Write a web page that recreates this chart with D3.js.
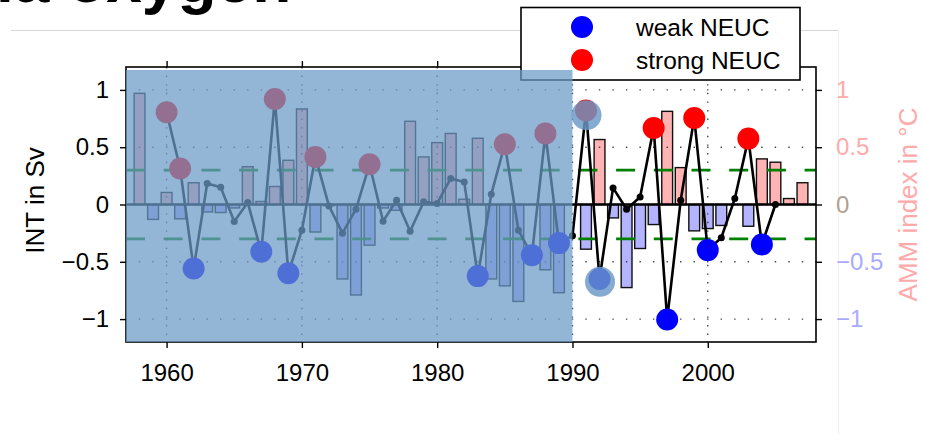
<!DOCTYPE html>
<html>
<head>
<meta charset="utf-8">
<script src="https://cdn.jsdelivr.net/npm/d3@7"></script>
<style>
  body { margin: 0; background: #fff; }
  svg { display: block; font-family: "Liberation Sans", Arial, sans-serif; }
</style>
</head>
<body>
<div id="chart"></div>
<script>
// AMM index (bars, right axis), 1958-2007
const ammYears = d3.range(1958, 2008);
const ammValues = [
  0.97, -0.13, 0.105, -0.125, 0.19, -0.065, -0.07, -0.03, 0.33, 0.026,
  0.157, 0.386, 0.834, -0.24, -0.01, -0.65, -0.79, -0.355, -0.03, -0.05,
  0.726, 0.415, 0.54, 0.62, 0.046, 0.578, -0.65, -0.71, -0.846, 0.0,
  -0.57, -0.77, 0.0, -0.39, 0.567, -0.117, -0.725, -0.384, -0.175, 0.813,
  0.322, -0.23, -0.21, -0.183, 0.0, -0.19, 0.398, 0.369, 0.052, 0.19
];

// INT in Sv (line, left axis), 1960-2005
const intYears = d3.range(1960, 2006);
const intValues = [
  0.805, 0.314, -0.558, 0.183, 0.151, -0.148, 0.017, -0.413, 0.921, -0.60,
  -0.224, 0.415, -0.012, -0.25, -0.041, 0.351, -0.146, 0.037, -0.233, 0.023,
  0.009, 0.227, 0.197, -0.625, 0.09, 0.526, -0.224, -0.442, 0.619, -0.337,
  -0.273, 0.82, -0.65, 0.145, -0.041, 0.066, 0.668, -1.003, 0.037, 0.755,
  -0.398, -0.29, 0.052, 0.575, -0.349, 0.0
];

const threshold = 0.3;
const highlightYears = [1991, 1992];
const highlightValues = [0.78, -0.675];

const xTicks = [1960, 1970, 1980, 1990, 2000];
const yTicks = [-1, -0.5, 0, 0.5, 1];
const shadeEnd = 1990;

const width = 925, height = 434;
const margin = { top: 67, right: 109, bottom: 92, left: 126 };
const tickFont = 24;

const svg = d3.select("#chart").append("svg")
    .attr("width", width)
    .attr("height", height);

svg.append("rect").attr("width", width).attr("height", height).attr("fill", "#fff");

// page bits around the figure (title is cut at the top)
svg.append("text")
    .attr("x", -4).attr("y", 2)
    .attr("font-size", 64).attr("font-weight", "bold")
    .text("ia oxygen");
svg.append("line").attr("x1", 11).attr("x2", 838).attr("y1", 30.5).attr("y2", 30.5)
    .attr("stroke", "#d6d6d6");
svg.append("line").attr("x1", 838.5).attr("x2", 838.5).attr("y1", 30).attr("y2", height)
    .attr("stroke", "#f0f0f0");

const x = d3.scaleLinear().domain([1957, 2008]).range([margin.left, width - margin.right]);
const y = d3.scaleLinear().domain([-1.2, 1.2]).range([height - margin.bottom, margin.top]);

const g = svg.append("g");

// bars
const bw = x(1958.4) - x(1958);
g.selectAll(".bar")
  .data(ammYears.map((yr, i) => ({ yr, v: ammValues[i] })))
  .enter().append("rect")
    .attr("x", d => x(d.yr) - bw)
    .attr("width", bw * 2)
    .attr("y", d => y(Math.max(0, d.v)))
    .attr("height", d => Math.abs(y(d.v) - y(0)))
    .attr("fill", d => d.v >= 0 ? "#ffb3b3" : "#b3b3ff")
    .attr("stroke", "#111")
    .attr("stroke-width", 1.4);

// dotted grid
g.selectAll(".hgrid").data([-1, -0.5, 0.5, 1]).enter().append("line")
    .attr("x1", x(1957)).attr("x2", x(2008))
    .attr("y1", d => y(d)).attr("y2", d => y(d))
    .attr("stroke", "#444").attr("stroke-width", 1.4)
    .attr("stroke-dasharray", "1.4,12.13")
    .attr("stroke-dashoffset", -(x(1958) - x(1957) - 0.7));
g.selectAll(".vgrid").data(xTicks).enter().append("line")
    .attr("x1", d => x(d)).attr("x2", d => x(d))
    .attr("y1", y(1.2)).attr("y2", y(-1.2))
    .attr("stroke", "#444").attr("stroke-width", 1.4)
    .attr("stroke-dasharray", "1.4,7.2");

// zero line
g.append("line")
    .attr("x1", x(1957)).attr("x2", x(2008))
    .attr("y1", y(0)).attr("y2", y(0))
    .attr("stroke", "#000").attr("stroke-width", 2.6);

// threshold lines
g.selectAll(".thr").data([threshold, -threshold]).enter().append("line")
    .attr("x1", x(1957)).attr("x2", x(2008))
    .attr("y1", d => y(d)).attr("y2", d => y(d))
    .attr("stroke", "#008000").attr("stroke-width", 2.6)
    .attr("stroke-dasharray", "19,18.7");

// INT line
const pts = intYears.map((yr, i) => ({ yr, v: intValues[i] }));
g.append("path")
    .datum(pts)
    .attr("fill", "none")
    .attr("stroke", "#000")
    .attr("stroke-width", 2.6)
    .attr("stroke-linejoin", "round")
    .attr("d", d3.line().x(d => x(d.yr)).y(d => y(d.v)));
g.selectAll(".dot").data(pts).enter().append("circle")
    .attr("cx", d => x(d.yr)).attr("cy", d => y(d.v)).attr("r", 3.5)
    .attr("fill", "#000");

// weak / strong NEUC years
g.selectAll(".neuc").data(pts.filter(d => Math.abs(d.v) > threshold)).enter().append("circle")
    .attr("cx", d => x(d.yr)).attr("cy", d => y(d.v)).attr("r", 11)
    .attr("fill", d => d.v > 0 ? "#ff0000" : "#0000ff");

g.selectAll(".hl").data(highlightYears.map((yr, i) => ({ yr, v: highlightValues[i] })))
  .enter().append("circle")
    .attr("cx", d => x(d.yr) + 0.5).attr("cy", d => y(d.v)).attr("r", 15)
    .attr("fill", "#6b99c7").attr("fill-opacity", 0.82);

// frame + axes
svg.append("rect")
    .attr("x", x(1957)).attr("y", y(1.2))
    .attr("width", x(2008) - x(1957)).attr("height", y(-1.2) - y(1.2))
    .attr("fill", "none").attr("stroke", "#000").attr("stroke-width", 1.6);

const styleText = sel => sel.attr("font-size", tickFont)
    .attr("font-family", "Liberation Sans, Arial, sans-serif");

svg.append("g")
    .attr("transform", `translate(0,${y(-1.2)})`)
    .call(d3.axisBottom(x).tickValues(xTicks).tickFormat(d3.format("d")).tickSize(6).tickPadding(16))
    .call(a => a.select(".domain").remove())
    .call(a => a.selectAll("line").attr("stroke-width", 1.4))
    .call(a => a.selectAll("text").call(styleText).attr("fill", "#000"));

svg.append("g")
    .attr("transform", `translate(0,${y(1.2)})`)
    .call(d3.axisTop(x).tickValues(xTicks.slice(0, 3)).tickFormat("").tickSize(6))
    .call(a => a.select(".domain").remove())
    .call(a => a.selectAll("line").attr("stroke-width", 1.4));

const fmt = d => d === 0 ? "0" : d3.format("")(d).replace("-", "\u2212");

svg.append("g")
    .attr("transform", `translate(${x(1957)},0)`)
    .call(d3.axisLeft(y).tickValues(yTicks).tickFormat(fmt).tickSize(6).tickPadding(11))
    .call(a => a.select(".domain").remove())
    .call(a => a.selectAll("line").attr("stroke-width", 1.4))
    .call(a => a.selectAll("text").call(styleText).attr("fill", "#000"));

const rightColor = d => d > 0 ? "#ffaaaa" : d < 0 ? "#aaaaff" : "#b0a090";
svg.append("g")
    .attr("transform", `translate(${x(2008)},0)`)
    .call(d3.axisRight(y).tickValues(yTicks).tickFormat(fmt).tickSize(6).tickPadding(14))
    .call(a => a.select(".domain").remove())
    .call(a => a.selectAll("line").attr("stroke-width", 1.4))
    .call(a => a.selectAll("text").call(styleText).attr("fill", d => rightColor(d)));

svg.append("text")
    .attr("transform", `translate(44,${y(0) - 4}) rotate(-90)`)
    .attr("text-anchor", "middle")
    .attr("font-size", 26)
    .text("INT in Sv");
svg.append("text")
    .attr("transform", `translate(917,${y(0)}) rotate(-90)`)
    .attr("text-anchor", "middle")
    .attr("font-size", 26)
    .attr("fill", "#ffaaaa")
    .text("AMM index in \u00b0C");

// legend
const legend = svg.append("g");
legend.append("rect")
    .attr("x", 521).attr("y", 7.5).attr("width", 279).attr("height", 72.5)
    .attr("fill", "#fff").attr("stroke", "#000").attr("stroke-width", 1.6);
const legendItems = [["weak NEUC", "#0000ff"], ["strong NEUC", "#ff0000"]];
legendItems.forEach(([label, col], i) => {
  legend.append("circle").attr("cx", 582).attr("cy", 27 + i * 33).attr("r", 11).attr("fill", col);
  legend.append("text").attr("x", 636).attr("y", 36 + i * 33)
      .attr("font-size", 24.5).text(label);
});

// shaded period drawn over everything
svg.append("rect")
    .attr("x", x(1957)).attr("y", y(1.2) + 3)
    .attr("width", x(shadeEnd) - x(1957))
    .attr("height", y(-1.2) - y(1.2) - 3)
    .attr("fill", "rgb(107,153,199)")
    .attr("fill-opacity", 0.73);
</script>
</body>
</html>
